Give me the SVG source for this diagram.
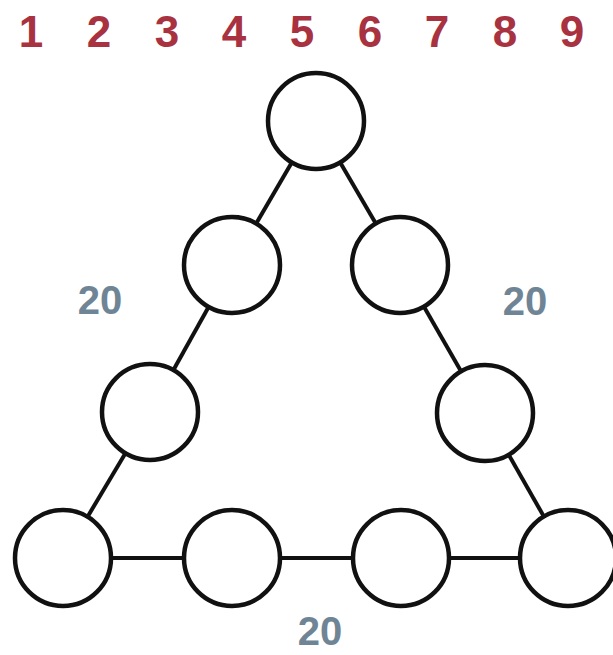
<svg xmlns="http://www.w3.org/2000/svg" width="613" height="655" viewBox="0 0 613 655">
<style>
.num{font-family:"Liberation Sans",Arial,sans-serif;font-weight:bold;font-size:44px;fill:#a8323f;text-anchor:middle}
.sum{font-family:"Liberation Sans",Arial,sans-serif;font-weight:bold;font-size:40px;fill:#6f8595;text-anchor:middle}
.edge{stroke:#111;stroke-width:4;fill:none}
.node circle{fill:#fff;stroke:#111;stroke-width:4.5}
</style>
<rect width="613" height="655" fill="#fff"/>
<g id="digits">
<text class="num" x="31" y="47">1</text>
<text class="num" x="99" y="47">2</text>
<text class="num" x="167" y="47">3</text>
<text class="num" x="234" y="47">4</text>
<text class="num" x="302" y="47">5</text>
<text class="num" x="370" y="47">6</text>
<text class="num" x="437" y="47">7</text>
<text class="num" x="505" y="47">8</text>
<text class="num" x="572" y="47">9</text>
</g>
<g id="connectors">
<line class="edge" x1="316" y1="121" x2="232" y2="265"/>
<line class="edge" x1="232" y1="265" x2="150" y2="412"/>
<line class="edge" x1="150" y1="412" x2="63" y2="558"/>
<line class="edge" x1="316" y1="121" x2="400" y2="265"/>
<line class="edge" x1="400" y1="265" x2="485" y2="413"/>
<line class="edge" x1="485" y1="413" x2="568" y2="559"/>
<line class="edge" x1="63" y1="558" x2="568" y2="558"/>
</g>
<g id="n1" class="node"><circle cx="316" cy="121" r="48"/></g>
<g id="n2" class="node"><circle cx="232" cy="265" r="48"/></g>
<g id="n3" class="node"><circle cx="400" cy="265" r="48"/></g>
<g id="n4" class="node"><circle cx="150" cy="412" r="48"/></g>
<g id="n5" class="node"><circle cx="485" cy="413" r="48"/></g>
<g id="n6" class="node"><circle cx="63" cy="558" r="48"/></g>
<g id="n7" class="node"><circle cx="232" cy="558" r="48"/></g>
<g id="n8" class="node"><circle cx="401" cy="558" r="48"/></g>
<g id="n9" class="node"><circle cx="568" cy="558" r="48"/></g>
<g id="sums">
<text class="sum" x="100" y="314">20</text>
<text class="sum" x="525" y="315">20</text>
<text class="sum" x="320" y="645">20</text>
</g>
</svg>
